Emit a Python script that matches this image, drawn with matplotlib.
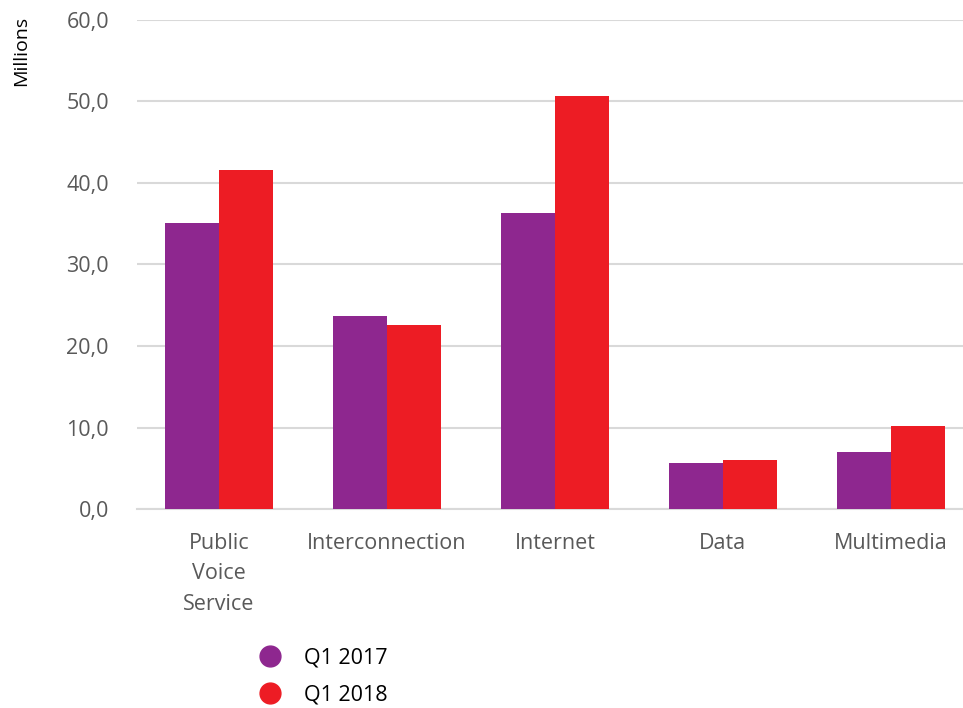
import numpy as np
import matplotlib.pyplot as plt
from matplotlib.lines import Line2D

categories = ['Public\nVoice\nService', 'Interconnection', 'Internet', 'Data', 'Multimedia']
q1_2017 = [35.1, 23.7, 36.3, 5.7, 7.0]
q1_2018 = [41.6, 22.6, 50.7, 6.0, 10.2]
series_names = ['Q1 2017', 'Q1 2018']
colors = ['#8E278F', '#ED1C24']
yticks = [0, 10, 20, 30, 40, 50, 60]

plt.rcParams['font.family'] = ['Open Sans', 'DejaVu Sans']

fig = plt.figure(figsize=(9.63, 7.08), dpi=100)
ax = fig.add_axes([0.142, 0.281, 0.858, 0.691])

x = np.arange(len(categories))
w = 0.32
ax.bar(x - w / 2, q1_2017, w, color=colors[0], zorder=3)
ax.bar(x + w / 2, q1_2018, w, color=colors[1], zorder=3)

ax.set_ylim(0, 60)
ax.set_xlim(-0.49, 4.43)
ax.set_yticks(yticks)
ax.set_yticklabels([('%.1f' % v).replace('.', ',') for v in yticks])
ax.set_xticks(x)
ax.set_xticklabels(categories, linespacing=1.6)
ax.tick_params(axis='both', length=0, labelsize=15.5, labelcolor='#595959')
ax.tick_params(axis='x', pad=17)
ax.tick_params(axis='y', pad=20)

ax.yaxis.grid(True, color='#d9d9d9', linewidth=1.5, zorder=0)
for s in ['top', 'right', 'left']:
    ax.spines[s].set_visible(False)
ax.spines['bottom'].set_color('#d9d9d9')
ax.spines['bottom'].set_linewidth(1.5)

fig.text(0.022, 0.928, 'Millions', rotation=90, ha='center', va='center', fontsize=14, color='black')

handles = [Line2D([], [], marker='o', linestyle='', markersize=15, color=c) for c in colors]
fig.legend(handles, series_names, loc='upper left', bbox_to_anchor=(0.258, 0.085),
           frameon=False, fontsize=15.5, handletextpad=0.6, labelspacing=0.75,
           borderaxespad=0, borderpad=0)

fig.savefig('out.png', dpi=100)
